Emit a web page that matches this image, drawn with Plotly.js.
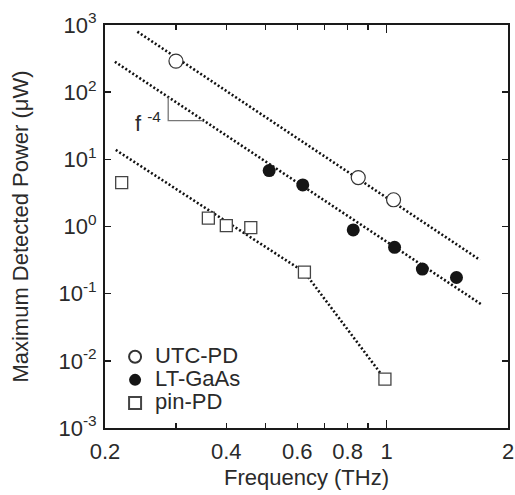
<!DOCTYPE html>
<html>
<head>
<meta charset="utf-8">
<script src="https://cdn.plot.ly/plotly-3.0.1.min.js"></script>
<style>html,body{margin:0;padding:0;background:#fff;}#chart{width:515px;height:495px;}</style>
</head>
<body>
<div id="chart"></div>
<script>
// ---- data ----
const utcFreq = [0.30, 0.85, 1.04];
const utcPower = [290, 5.35, 2.5];

const ltFreq = [0.511, 0.619, 0.826, 1.046, 1.226, 1.49];
const ltPower = [6.8, 4.16, 0.89, 0.49, 0.232, 0.174];

const pinFreq = [0.22, 0.361, 0.40, 0.46, 0.625, 0.99];
const pinPower = [4.5, 1.33, 1.03, 0.96, 0.209, 0.00534];

// dotted guide lines (f^-4 fits, f^-8 for pin-PD above 0.6 THz)
const utcFitFreq = [0.2406, 1.704];
const utcFitPower = [795, 0.318];
const ltFitFreq = [0.2116, 1.714];
const ltFitPower = [284, 0.0698];
const pinFitFreq = [0.2127, 0.625, 0.99];
const pinFitPower = [13.8, 0.209, 0.00534];

// slope triangle
const triFreq = [0.287, 0.287, 0.350];
const triPower = [84, 37.7, 37.7];

const seriesNames = ['UTC-PD', 'LT-GaAs', 'pin-PD'];

const xTickVals = [0.2, 0.3, 0.4, 0.5, 0.6, 0.7, 0.8, 0.9, 1, 2];
const xTickText = ['0.2', '', '0.4', '', '0.6', '', '0.8', '', '1', '2'];
const yTickVals = [0.001, 0.01, 0.1, 1, 10, 100, 1000];
const yTickText = ['10<sup>-3</sup>', '10<sup>-2</sup>', '10<sup>-1</sup>', '10<sup>0</sup>', '10<sup>1</sup>', '10<sup>2</sup>', '10<sup>3</sup>'];

const FONT = 'Liberation Sans, Arial, Helvetica, sans-serif';
const TXT = '#2a2a2a';
const AX = '#1a1a1a';
const FS = 22;

const dotLine = {color: '#111', width: 2.6, dash: '2px,2.2px'};
const legName = s => '<span style="font-size:' + FS + 'px">' + s + '</span>';

const traces = [
  {x: utcFitFreq, y: utcFitPower, mode: 'lines', line: dotLine, showlegend: false, hoverinfo: 'skip'},
  {x: ltFitFreq, y: ltFitPower, mode: 'lines', line: dotLine, showlegend: false, hoverinfo: 'skip'},
  {x: pinFitFreq, y: pinFitPower, mode: 'lines', line: dotLine, showlegend: false, hoverinfo: 'skip'},
  {x: triFreq, y: triPower, mode: 'lines', line: {color: '#777', width: 1.3}, showlegend: false, hoverinfo: 'skip'},
  {x: utcFreq, y: utcPower, mode: 'markers', name: legName(seriesNames[0]),
   marker: {symbol: 'circle', size: 14, color: '#fff', line: {color: '#333', width: 1.2}}},
  {x: ltFreq, y: ltPower, mode: 'markers', name: legName(seriesNames[1]),
   marker: {symbol: 'circle', size: 13, color: '#151515', line: {color: '#151515', width: 0}}},
  {x: pinFreq, y: pinPower, mode: 'markers', name: legName(seriesNames[2]),
   marker: {symbol: 'square', size: 12, color: '#fff', line: {color: '#444', width: 1.3}}},
  {x: [], y: [], xaxis: 'x2', showlegend: false}
];

const layout = {
  width: 515, height: 495,
  margin: {l: 105, r: 7, t: 25, b: 67},
  paper_bgcolor: '#fff', plot_bgcolor: '#fff',
  font: {family: FONT, size: FS, color: TXT},
  showlegend: true,
  legend: {x: 0.025, y: 0.218, xanchor: 'left', yanchor: 'top', bgcolor: 'rgba(0,0,0,0)',
           font: {family: FONT, size: 15.5, color: TXT}, itemsizing: 'constant', tracegroupgap: 0},
  xaxis: {type: 'log', range: [Math.log10(0.2), Math.log10(2)], tickmode: 'array',
          tickvals: xTickVals, ticktext: xTickText, ticks: 'inside', ticklen: 5, tickwidth: 1.5,
          tickcolor: AX, showline: true, linecolor: AX, linewidth: 2, mirror: 'ticks',
          showgrid: false, zeroline: false, ticklabelstandoff: 3,
          tickfont: {family: FONT, size: FS, color: TXT},
          title: {text: 'Frequency (THz)', font: {family: FONT, size: FS, color: TXT}, standoff: 6}},
  xaxis2: {type: 'log', range: [Math.log10(0.2), Math.log10(2)], overlaying: 'x', anchor: 'y',
           tickmode: 'array', tickvals: [1], ticks: 'inside', ticklen: 8, tickwidth: 1.5,
           tickcolor: AX, showticklabels: false, showline: false, mirror: 'ticks', showgrid: false, zeroline: false},
  yaxis: {type: 'log', range: [-3, 3], tickmode: 'array', tickvals: yTickVals, ticktext: yTickText,
          ticks: 'inside', ticklen: 6, tickwidth: 1.5, tickcolor: AX, showline: true, linecolor: AX,
          linewidth: 2, mirror: 'ticks', showgrid: false, zeroline: false, ticklabelstandoff: 2,
          tickfont: {family: FONT, size: FS, color: TXT},
          title: {text: 'Maximum Detected Power (\u03bcW)', font: {family: FONT, size: FS, color: TXT}, standoff: 24}},
  annotations: [
    {x: Math.log10(0.2557), y: Math.log10(36), xref: 'x', yref: 'y', text: 'f <sup>-4</sup>',
     showarrow: false, font: {family: FONT, size: FS, color: TXT}}
  ]
};

Plotly.newPlot('chart', traces, layout, {staticPlot: true, displayModeBar: false});
</script>
</body>
</html>
